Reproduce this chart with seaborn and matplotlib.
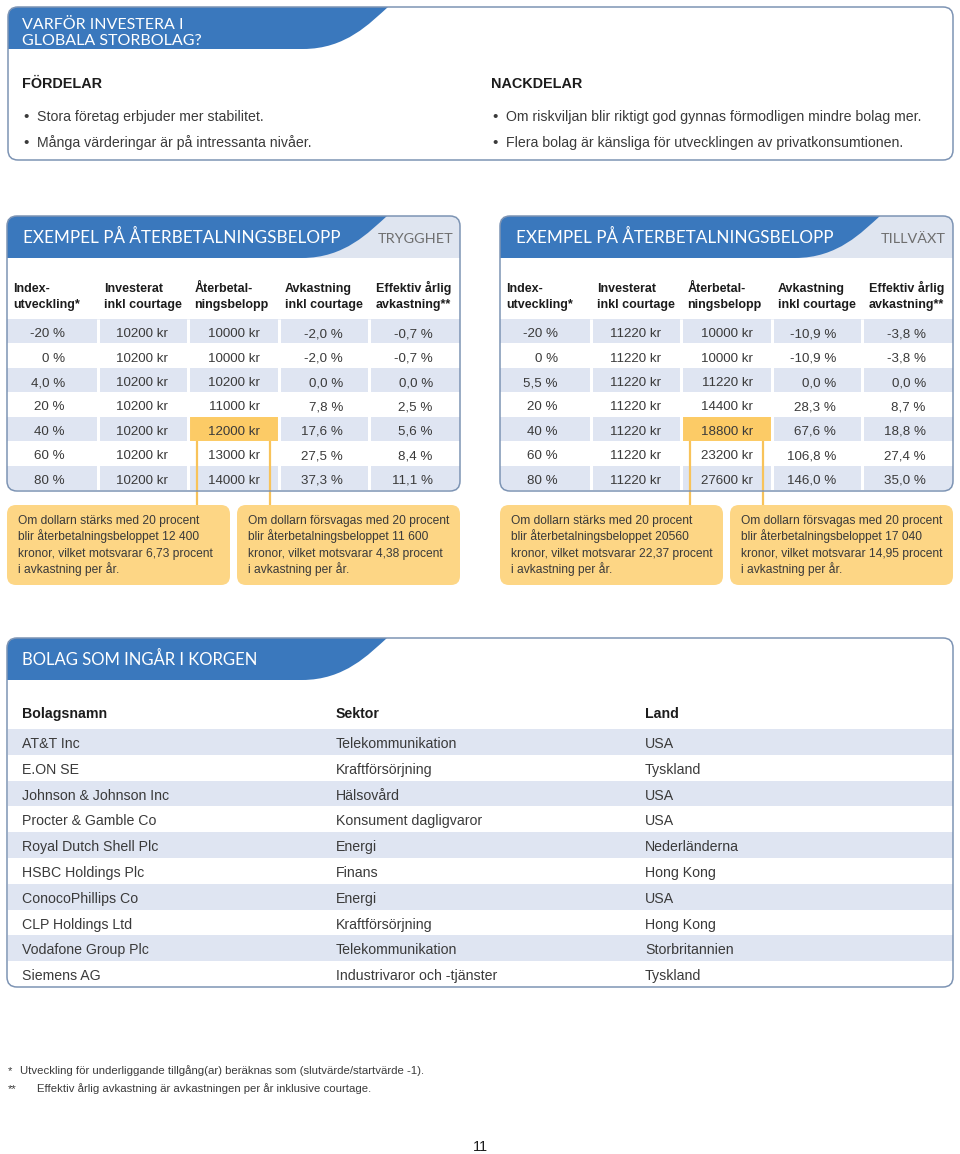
import matplotlib
matplotlib.use("Agg")
import matplotlib.pyplot as plt
import numpy as np
import seaborn as sns
from matplotlib.colors import ListedColormap
from matplotlib.patches import FancyBboxPatch, PathPatch, Rectangle
from matplotlib.path import Path

sns.set_theme(style="white")
plt.rcParams["font.family"] = ["Liberation Sans", "DejaVu Sans"]

# ---- data ----
PROS = ["Stora företag erbjuder mer stabilitet.",
        "Många värderingar är på intressanta nivåer."]
CONS = ["Om riskviljan blir riktigt god gynnas förmodligen mindre bolag mer.",
        "Flera bolag är känsliga för utvecklingen av privatkonsumtionen."]

COL_HEADERS = ["Index-\nutveckling*", "Investerat\ninkl courtage", "Återbetal-\nningsbelopp",
               "Avkastning\ninkl courtage", "Effektiv årlig\navkastning**"]

SAFE_INDEX = ["-20 %", "0 %", "4,0 %", "20 %", "40 %", "60 %", "80 %"]
SAFE_INVESTED = [10200, 10200, 10200, 10200, 10200, 10200, 10200]
SAFE_PAYOUT = [10000, 10000, 10200, 11000, 12000, 13000, 14000]
SAFE_RETURN = [-2.0, -2.0, 0.0, 7.8, 17.6, 27.5, 37.3]
SAFE_ANNUAL = [-0.7, -0.7, 0.0, 2.5, 5.6, 8.4, 11.1]

GROWTH_INDEX = ["-20 %", "0 %", "5,5 %", "20 %", "40 %", "60 %", "80 %"]
GROWTH_INVESTED = [11220, 11220, 11220, 11220, 11220, 11220, 11220]
GROWTH_PAYOUT = [10000, 10000, 11220, 14400, 18800, 23200, 27600]
GROWTH_RETURN = [-10.9, -10.9, 0.0, 28.3, 67.6, 106.8, 146.0]
GROWTH_ANNUAL = [-3.8, -3.8, 0.0, 8.7, 18.8, 27.4, 35.0]

HIGHLIGHT_ROW = 4  # the 40 % row

SAFE_NOTES = ["Om dollarn stärks med 20 procent\nblir återbetalningsbeloppet 12 400\n"
              "kronor, vilket motsvarar 6,73 procent\ni avkastning per år.",
              "Om dollarn försvagas med 20 procent\nblir återbetalningsbeloppet 11 600\n"
              "kronor, vilket motsvarar 4,38 procent\ni avkastning per år."]
GROWTH_NOTES = ["Om dollarn stärks med 20 procent\nblir återbetalningsbeloppet 20560\n"
                "kronor, vilket motsvarar 22,37 procent\ni avkastning per år.",
                "Om dollarn försvagas med 20 procent\nblir återbetalningsbeloppet 17 040\n"
                "kronor, vilket motsvarar 14,95 procent\ni avkastning per år."]

BASKET_HEADERS = ["Bolagsnamn", "Sektor", "Land"]
COMPANIES = ["AT&T Inc", "E.ON SE", "Johnson & Johnson Inc", "Procter & Gamble Co",
             "Royal Dutch Shell Plc", "HSBC Holdings Plc", "ConocoPhillips Co",
             "CLP Holdings Ltd", "Vodafone Group Plc", "Siemens AG"]
SECTORS = ["Telekommunikation", "Kraftförsörjning", "Hälsovård", "Konsument dagligvaror",
           "Energi", "Finans", "Energi", "Kraftförsörjning", "Telekommunikation",
           "Industrivaror och -tjänster"]
COUNTRIES = ["USA", "Tyskland", "USA", "USA", "Nederländerna", "Hong Kong", "USA",
             "Hong Kong", "Storbritannien", "Tyskland"]

FOOTNOTES = [("*", "Utveckling för underliggande tillgång(ar) beräknas som (slutvärde/startvärde -1)."),
             ("**", "Effektiv årlig avkastning är avkastningen per år inklusive courtage.")]

# ---- style ----
BLUE = "#3a78bd"
HEAD_LIGHT = "#dfe5f0"
BAND = "#dfe5f2"
BORDER = "#7d94b4"
CALLOUT = "#fdd685"
HILITE = "#fccb66"
LINK = "#f8c35a"
TXT = "#3a3a3a"
DARK = "#1c1c1c"
TITLE_FONT = ["Lato", "Liberation Sans", "DejaVu Sans"]

W, H = 960, 1154
fig = plt.figure(figsize=(W / 100, H / 100), dpi=100)
bg = fig.add_axes([0, 0, 1, 1])
bg.set_xlim(0, W)
bg.set_ylim(H, 0)
bg.set_axis_off()
bg.set_zorder(2)


def px_rect(x0, y0, x1, y1):
    return [x0 / W, 1 - y1 / H, (x1 - x0) / W, (y1 - y0) / H]


def box(x0, y0, x1, y1):
    p = FancyBboxPatch((x0, y0), x1 - x0, y1 - y0, boxstyle="round,pad=0,rounding_size=10",
                       fc="none", ec=BORDER, lw=1.1, zorder=5)
    bg.add_patch(p)
    return p


def header(frame, x0, x1, top, bot, light=False):
    if light:
        r = Rectangle((x0, top), x1 - x0, bot - top, fc=HEAD_LIGHT, ec="none", zorder=1)
        bg.add_patch(r)
        r.set_clip_path(frame)
    xt = x0 + 380
    verts = [(x0, top), (xt, top), (xt - 18, top + 16), (xt - 42, bot), (xt - 85, bot),
             (x0, bot), (x0, top)]
    codes = [Path.MOVETO, Path.LINETO, Path.CURVE4, Path.CURVE4, Path.CURVE4,
             Path.LINETO, Path.CLOSEPOLY]
    s = PathPatch(Path(verts, codes), fc=BLUE, ec="none", zorder=2)
    bg.add_patch(s)
    s.set_clip_path(frame)


def title(x, y, text, size=12.3):
    bg.text(x, y, text, color="white", fontsize=size, family=TITLE_FONT,
            va="baseline", ha="left", zorder=6)


# ---- top box ----
top_frame = box(8, 7, 953, 160)
header(top_frame, 8, 953, 7, 49)
title(22, 29, "VARFÖR INVESTERA I", 11.5)
title(22, 45, "GLOBALA STORBOLAG?", 11.5)
for x, head, items in [(22, "FÖRDELAR", PROS), (491, "NACKDELAR", CONS)]:
    bg.text(x, 88, head, fontsize=10.4, fontweight="bold", color=DARK, va="baseline")
    for k, item in enumerate(items):
        y = 121 + 25.5 * k
        bg.text(x + 1, y, "•", fontsize=11, color=TXT, va="baseline")
        bg.text(x + 15, y, item, fontsize=10.2, color=TXT, va="baseline")


# ---- return tables ----
def fmt_kr(v):
    return f"{v} kr"


def fmt_pct(v):
    return f"{v:.1f}".replace(".", ",") + " %"


RIGHT_FRAC = [0.64, 0.78, 0.79, 0.71, 0.70]
ROWS_TOP, ROWS_BOT = 319, 490


def return_table(x0, x1, tag, index, invested, payout, ret, annual, notes):
    frame = box(x0, 216, x1, 491)
    header(frame, x0, x1, 216, 258, light=True)
    title(x0 + 16, 243, "EXEMPEL PÅ ÅTERBETALNINGSBELOPP")
    bg.text(x1 - 7, 243, tag, fontsize=10.4, family=TITLE_FONT, color="#6e6e6e",
            ha="right", va="baseline", zorder=6)

    cells = [index,
             [fmt_kr(v) for v in invested],
             [fmt_kr(v) for v in payout],
             [fmt_pct(v) for v in ret],
             [fmt_pct(v) for v in annual]]
    n_rows, n_cols = len(index), len(cells)
    shade = np.array([[1 if i % 2 == 0 else 0] * n_cols for i in range(n_rows)])
    shade[HIGHLIGHT_ROW, 2] = 2

    ax = fig.add_axes(px_rect(x0, ROWS_TOP, x1, ROWS_BOT))
    ax.set_zorder(1)
    sns.heatmap(shade, ax=ax, cmap=ListedColormap(["white", BAND, HILITE]), vmin=0, vmax=2,
                cbar=False, xticklabels=False, yticklabels=False, linewidths=0)
    ax.collections[0].set_clip_path(frame)
    ax.vlines(np.arange(1, n_cols), 0, n_rows, color="white", lw=2.2)
    ax.set_axis_off()

    row_h = (ROWS_BOT - ROWS_TOP) / n_rows
    for j, col in enumerate(cells):
        for i, val in enumerate(col):
            ax.text(j + RIGHT_FRAC[j], i + 0.5 + 6 / row_h, val, ha="right", va="baseline",
                    fontsize=9.6, color=TXT)
        for k, line in enumerate(COL_HEADERS[j].split("\n")):
            ax.text(j + 0.07, (292 + 16 * k - ROWS_TOP) / row_h, line, ha="left",
                    va="baseline", fontsize=9, fontweight="bold", color=DARK)

    # connector from highlighted cell to the callouts
    link_bot = (505 - ROWS_TOP) / row_h
    for dx in (0.1, 0.9):
        ax.plot([2 + dx, 2 + dx], [HIGHLIGHT_ROW + 1, link_bot], color=LINK, lw=1.6,
                clip_on=False, solid_capstyle="butt")

    half = (x1 - x0 - 7) / 2
    for k, note in enumerate(notes):
        bx = x0 + k * (half + 7)
        bg.add_patch(FancyBboxPatch((bx, 505), half, 80, boxstyle="round,pad=0,rounding_size=9",
                                    fc=CALLOUT, ec="none", zorder=1))
        for m, line in enumerate(note.split("\n")):
            bg.text(bx + 11, 524 + 16.4 * m, line, fontsize=8.65, color=TXT, va="baseline")


return_table(7, 460, "TRYGGHET", SAFE_INDEX, SAFE_INVESTED, SAFE_PAYOUT, SAFE_RETURN,
             SAFE_ANNUAL, SAFE_NOTES)
return_table(500, 953, "TILLVÄXT", GROWTH_INDEX, GROWTH_INVESTED, GROWTH_PAYOUT,
             GROWTH_RETURN, GROWTH_ANNUAL, GROWTH_NOTES)

# ---- basket table ----
basket_frame = box(7, 638, 953, 987)
header(basket_frame, 7, 953, 638, 680)
title(22, 665, "BOLAG SOM INGÅR I KORGEN", 12.0)

B_TOP, B_BOT = 729, 987
n = len(COMPANIES)
bax = fig.add_axes(px_rect(8, B_TOP, 953, B_BOT))
bax.set_zorder(1)
sns.heatmap(np.array([[1 - i % 2] for i in range(n)]), ax=bax,
            cmap=ListedColormap(["white", BAND]), vmin=0, vmax=1, cbar=False,
            xticklabels=False, yticklabels=False, linewidths=0)
bax.collections[0].set_clip_path(basket_frame)
bax.set_axis_off()
b_row_h = (B_BOT - B_TOP) / n
COL_X = [0.0148, 0.347, 0.674]
for c, col in enumerate([COMPANIES, SECTORS, COUNTRIES]):
    bax.text(COL_X[c], (718 - B_TOP) / b_row_h, BASKET_HEADERS[c], fontsize=10.2,
             fontweight="bold", color=DARK, va="baseline")
    for i, val in enumerate(col):
        bax.text(COL_X[c], i + 0.5 + 6 / b_row_h, val, fontsize=10.2, color=TXT,
                 va="baseline")

# ---- footnotes ----
for k, (mark, text) in enumerate(FOOTNOTES):
    y = 1074 + 18 * k
    bg.text(8, y, mark, fontsize=8.2, color=TXT, va="baseline")
    bg.text(20 if k == 0 else 37, y, text, fontsize=8.2, color=TXT, va="baseline")
bg.text(480, 1151, "11", fontsize=10.5, color=DARK, ha="center", va="baseline")

fig.savefig("out.png", dpi=100, facecolor="white")
